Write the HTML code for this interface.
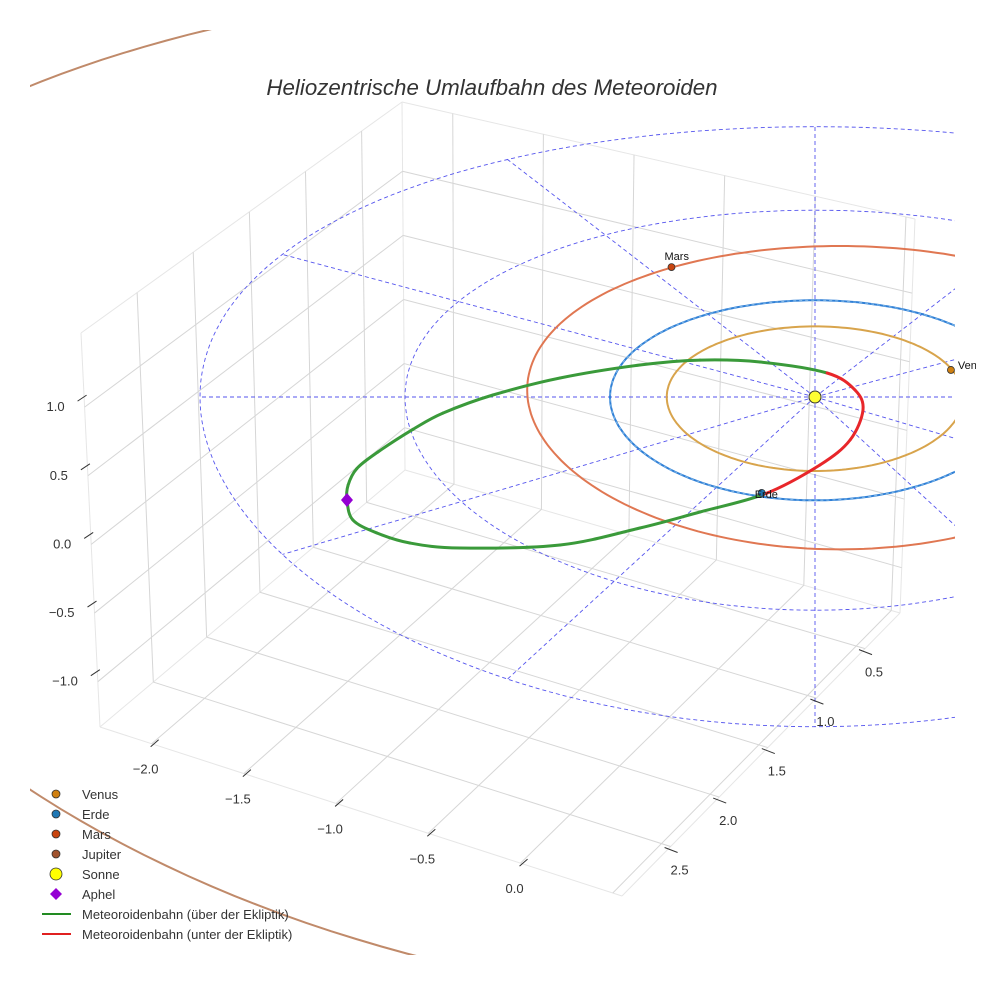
<!DOCTYPE html>
<html><head><meta charset="utf-8"><style>
html,body{margin:0;padding:0;background:#fff}
svg{display:block;font-family:"Liberation Sans",Arial,sans-serif}
</style></head><body>
<svg id="c" width="984" height="984" viewBox="0 0 984 984">
<defs><clipPath id="clip"><rect x="30" y="30" width="925" height="925"/></clipPath><clipPath id="clip2"><rect x="30" y="30" width="946" height="925"/></clipPath></defs>
<text x="492" y="95" text-anchor="middle" font-size="22.3" font-style="italic" fill="#333">Heliozentrische Umlaufbahn des Meteoroiden</text>
<g id="grid"></g>
<g id="plot" clip-path="url(#clip)"></g>
<g id="labels" clip-path="url(#clip2)"></g>
<g id="ticks"></g>
<g id="legend"></g>
</svg>
<script>
// ---- data ----
const xTicks = [-2.0, -1.5, -1.0, -0.5, 0.0];
const yTicks = [0.5, 1.0, 1.5, 2.0, 2.5];
const zTicks = [-1.0, -0.5, 0.0, 0.5, 1.0];
const xGrid = [-2.0, -1.5, -1.0, -0.5, 0.0, 0.5];
const yGrid = [0.5, 1.0, 1.5, 2.0, 2.5];
const ringRadii = [1, 2, 3];
const spokeAngles = [0, 30, 60, 90, 120, 150, 180, 210, 240, 270, 300, 330];
const planetNames = ["Venus", "Erde", "Mars", "Jupiter"];
const planetA = [0.723, 1.0, 1.524, 5.2];
const planetCX = [0, 0, 0.12, 0];
const planetCY = [0, 0, 0.07, 0];
const planetPosX = [0.663, -0.26, -0.70];
const planetPosY = [0.273, -0.93, 1.36];
const meteorX = [-0.244, -0.561, -0.854, -1.244, -1.732, -1.976, -2.137, -2.254, -2.283, -2.278, -2.235, -2.132, -1.961, -1.815, -1.571, -1.244, -0.854, -0.561, -0.268, 0.059, 0.195, 0.234, 0.171, 0.024];
const meteorY = [-0.94, -1.109, -1.258, -1.414, -1.441, -1.396, -1.304, -1.184, -0.997, -0.860, -0.700, -0.540, -0.320, -0.160, 0.020, 0.191, 0.323, 0.374, 0.354, 0.242, 0.070, -0.129, -0.424, -0.665];
const meteorAbove = [1,1,1,1,1,1,1,1,1,1,1,1,1,1,1,1,1,1,1,1,0,0,0,0];
const aphelIndex = 8;

// ---- axis / projection functions ----
const XMIN=-2.28, XMAX=0.55, YMIN=0.14, YMAX=3.0, ZMIN=-1.33, ZMAX=1.54;
const F=[100,727], B=[405,470], R=[900,613], FR=[622,896], T=[402,102], FT=[81,333], RT=[915,219];
function lerp(a,b,t){return [a[0]+(b[0]-a[0])*t, a[1]+(b[1]-a[1])*t];}
function bil(p00,p10,p01,p11,u,v){return lerp(lerp(p00,p10,u), lerp(p01,p11,u), v);}
function ux(x){return (x-XMIN)/(XMAX-XMIN);}
function vy(y){return (YMAX-y)/(YMAX-YMIN);}
function wz(z){return (z-ZMIN)/(ZMAX-ZMIN);}
function floorPt(x,y){return bil(F,FR,B,R,ux(x),vy(y));}
function leftWall(y,z){return bil(F,B,FT,T,vy(y),wz(z));}
function backWall(x,z){return bil(B,R,T,RT,ux(x),wz(z));}
// ecliptic screen projection (heliocentric AU)
function ecl(X,Y){return [815+205*X, 397+3.3*Y*Y-100*Y];}

const NS="http://www.w3.org/2000/svg";
function mk(parent,tag,attrs){const e=document.createElementNS(NS,tag);for(const k in attrs)e.setAttribute(k,attrs[k]);parent.appendChild(e);return e;}
const grid=document.getElementById('grid'), plot=document.getElementById('plot'), labels=document.getElementById('labels'), ticks=document.getElementById('ticks'), legend=document.getElementById('legend');
function line(parent,a,b,stroke,w,name){const l=mk(parent,'line',{x1:a[0],y1:a[1],x2:b[0],y2:b[1],stroke:stroke,'stroke-width':w});


return l;}

// box edges
[[F,B],[B,T],[T,FT],[FT,F],[B,R],[R,RT],[RT,T],[F,FR],[FR,R]].forEach(e=>line(grid,e[0],e[1],'#e6e6e6',1,'box-edge'));
// floor grid
xGrid.forEach(x=>line(grid,floorPt(x,YMAX),floorPt(x,YMIN),'#d6d6d6',1,'floor-gridline-x'));
yGrid.forEach(y=>line(grid,floorPt(XMIN,y),floorPt(XMAX,y),'#d6d6d6',1,'floor-gridline-y'));
// left wall
yGrid.forEach(y=>line(grid,leftWall(y,ZMIN),leftWall(y,ZMAX),'#d6d6d6',1,'left-wall-gridline'));
zTicks.forEach(z=>line(grid,leftWall(YMAX,z),leftWall(YMIN,z),'#d6d6d6',1,'left-wall-z-gridline'));
// back wall
xGrid.forEach(x=>line(grid,backWall(x,ZMIN),backWall(x,ZMAX),'#d6d6d6',1,'back-wall-gridline'));
zTicks.forEach(z=>line(grid,backWall(XMIN,z),backWall(XMAX,z),'#d6d6d6',1,'back-wall-z-gridline'));

// ticks
xTicks.forEach(x=>{const p=floorPt(x,YMAX);line(ticks,[p[0]-1,p[1]+3],[p[0]+7,p[1]-4],'#333',1,'x-tick');
const t=mk(ticks,'text',{x:p[0]-6,y:p[1]+30,'text-anchor':'middle','font-size':13,fill:'#333'});t.textContent=(x<0?'\u2212':'')+Math.abs(x).toFixed(1);

});
yTicks.forEach(y=>{const p=floorPt(XMAX,y);line(ticks,[p[0]-6,p[1]+1],[p[0]+7,p[1]+6],'#333',1,'y-tick');
const t=mk(ticks,'text',{x:p[0]+9,y:p[1]+28,'text-anchor':'middle','font-size':13,fill:'#333'});t.textContent=y.toFixed(1);

});
zTicks.forEach(z=>{const p=leftWall(YMAX,z);line(ticks,[p[0]-7,p[1]-6],[p[0]+2,p[1]-12],'#333',1,'z-tick');
const t=mk(ticks,'text',{x:p[0]-20,y:p[1]+4,'text-anchor':'end','font-size':13,fill:'#333'});t.textContent=(z<0?'\u2212':'')+Math.abs(z).toFixed(1);

});

// ecliptic dashed rings & spokes
function ringPath(a,cx,cy){let d='';for(let i=0;i<=240;i++){const t=i/240*2*Math.PI;const p=ecl(cx+a*Math.cos(t),cy+a*Math.sin(t));d+=(i?'L':'M')+p[0].toFixed(1)+','+p[1].toFixed(1);}return d;}
ringRadii.forEach(r=>{const p=mk(plot,'path',{d:ringPath(r,0,0),fill:'none',stroke:'#5555ee','stroke-width':0.9,'stroke-dasharray':'4,3'});

});
spokeAngles.forEach(a=>{const t=a*Math.PI/180;const e=ecl(3*Math.cos(t),3*Math.sin(t));const s=ecl(0,0);
const l=mk(plot,'line',{x1:s[0],y1:s[1],x2:e[0],y2:e[1],stroke:'#5555ee','stroke-width':0.9,'stroke-dasharray':'4,3'});

});

// planet orbits
const orbitColors=['#d8a44c','#2f7fd6','#e07752','#c08a6a'];
const dotColors=['#d08010','#1f77b4','#c8440f','#a0522d'];
planetNames.forEach((n,i)=>{const p=mk(plot,'path',{d:ringPath(planetA[i],planetCX[i],planetCY[i]),fill:'none',stroke:orbitColors[i],'stroke-width':2});

});
// earth light overlay
{const p=mk(plot,'path',{d:ringPath(1.0,0,0),fill:'none',stroke:'#7fb8e8','stroke-width':1,'stroke-dasharray':'3,3'});

}

// meteoroid orbit (closed Catmull-Rom through points)
const pts=meteorX.map((x,i)=>ecl(x,meteorY[i]));
const n=pts.length;
function seg(i){const p0=pts[(i-1+n)%n],p1=pts[i],p2=pts[(i+1)%n],p3=pts[(i+2)%n];
return 'C'+(p1[0]+(p2[0]-p0[0])/6).toFixed(1)+','+(p1[1]+(p2[1]-p0[1])/6).toFixed(1)+' '+(p2[0]-(p3[0]-p1[0])/6).toFixed(1)+','+(p2[1]-(p3[1]-p1[1])/6).toFixed(1)+' '+p2[0].toFixed(1)+','+p2[1].toFixed(1);}
for(let i=0;i<n;i++){const above=meteorAbove[i]&&meteorAbove[(i+1)%n];
const p=mk(plot,'path',{d:'M'+pts[i][0].toFixed(1)+','+pts[i][1].toFixed(1)+seg(i),fill:'none',stroke:above?'#3a9a3a':'#e8262a','stroke-width':3,'stroke-linecap':'round'});

}

// planets
planetPosX.forEach((x,i)=>{const p=ecl(x,planetPosY[i]);
const c=mk(plot,'circle',{cx:p[0],cy:p[1],r:3.5,fill:dotColors[i],stroke:'#333','stroke-width':0.8});


const t=mk(labels,'text',{x:i==0?p[0]+7:p[0]-7,y:i==0?p[1]-1:(i==2?p[1]-7:p[1]+5),'font-size':11,fill:'#111'});t.textContent=planetNames[i];

});
// sun
{const s=ecl(0,0);const c=mk(plot,'circle',{cx:s[0],cy:s[1],r:6,fill:'#ffff33',stroke:'#333','stroke-width':1});

}
// aphelion
{const a=ecl(meteorX[aphelIndex],meteorY[aphelIndex]);
const d=mk(plot,'path',{d:'M'+a[0]+','+(a[1]-7)+'L'+(a[0]+6)+','+a[1]+'L'+a[0]+','+(a[1]+7)+'L'+(a[0]-6)+','+a[1]+'Z',fill:'#9400d3'});

}

// legend
const legItems=[['Venus','dot','#d08010'],['Erde','dot','#1f77b4'],['Mars','dot','#c8440f'],['Jupiter','dot','#a0522d'],['Sonne','sun','#ffff00'],['Aphel','dia','#9400d3'],['Meteoroidenbahn (über der Ekliptik)','line','#228b22'],['Meteoroidenbahn (unter der Ekliptik)','line','#e02020']];
legItems.forEach((it,i)=>{const y=794+i*20;const g=mk(legend,'g',{});


if(it[1]=='dot')mk(g,'circle',{cx:56,cy:y,r:4,fill:it[2],stroke:'#333','stroke-width':0.8});
if(it[1]=='sun')mk(g,'circle',{cx:56,cy:y,r:6,fill:it[2],stroke:'#333','stroke-width':0.8});
if(it[1]=='dia')mk(g,'path',{d:`M56,${y-6}L62,${y}L56,${y+6}L50,${y}Z`,fill:it[2]});
if(it[1]=='line')mk(g,'line',{x1:42,y1:y,x2:71,y2:y,stroke:it[2],'stroke-width':2});
const t=mk(g,'text',{x:82,y:y+5,'font-size':13,fill:'#333'});t.textContent=it[0];});
</script>
</body></html>
